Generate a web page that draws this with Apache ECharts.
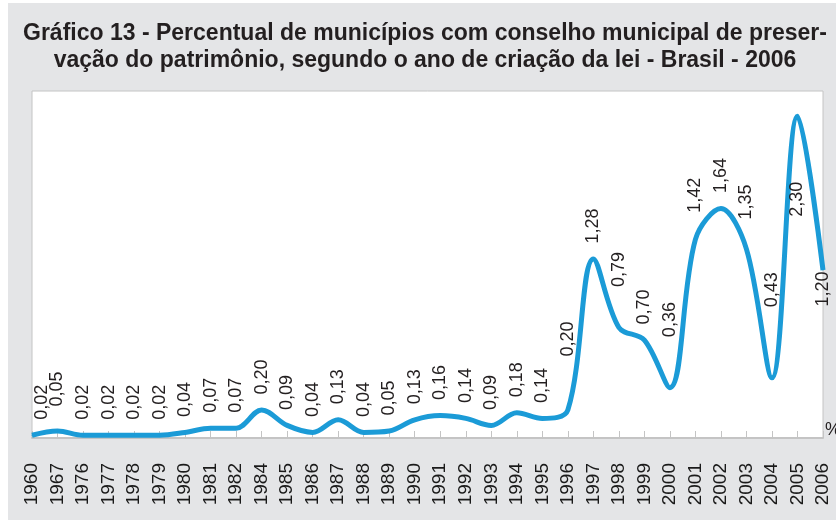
<!DOCTYPE html>
<html>
<head>
<meta charset="utf-8">
<script src="https://cdn.jsdelivr.net/npm/echarts@6/dist/echarts.min.js"></script>
<style>
  html, body { margin: 0; padding: 0; background: #fff; }
  #chart { width: 836px; height: 520px; }
</style>
</head>
<body>
<div id="chart"></div>
<script>
var years = ['1960', '1967', '1976', '1977', '1978', '1979', '1980', '1981', '1982', '1984',
  '1985', '1986', '1987', '1988', '1989', '1990', '1991', '1992', '1993', '1994', '1995',
  '1996', '1997', '1998', '1999', '2000', '2001', '2002', '2003', '2004', '2005', '2006']
var percentual = [0.02, 0.05, 0.02, 0.02, 0.02, 0.02, 0.04, 0.07, 0.07, 0.20,
  0.09, 0.04, 0.13, 0.04, 0.05, 0.13, 0.16, 0.14, 0.09, 0.18, 0.14,
  0.20, 1.28, 0.79, 0.70, 0.36, 1.42, 1.64, 1.35, 0.43, 2.30, 1.20]

// hand placed labels in the original: screen shift [right, down] in pixels
var labelShift = { '1960': [10, 0], '1967': [0, -9], '1996': [0, -38], '1998': [0, -25],
  '2000': [0, -35], '2001': [0, -11], '2003': [0, -14], '2004': [0, -55],
  '2005': [0, 116], '2006': [0, 52] }

var titleText = 'Gráfico 13 - Percentual de municípios com conselho municipal de preser-\n' +
  'vação do patrimônio, segundo o ano de criação da lei - Brasil - 2006'

var chart = echarts.init(document.getElementById('chart'))

var option = {
  animation: false,
  graphic: [
    {
      type: 'rect',
      z: -10,
      silent: true,
      shape: { x: 8, y: 3, width: 828, height: 517 },
      style: { fill: '#e4e5e7' }
    },
    {
      type: 'text',
      x: 425,
      y: 20,
      style: {
        text: titleText,
        align: 'center',
        fontFamily: 'Liberation Sans',
        fontWeight: 'bold',
        fontSize: 23,
        lineHeight: 27,
        fill: '#231f20'
      }
    },
    {
      type: 'text',
      left: 825,
      top: 421,
      style: { text: '%', font: '18px "Liberation Sans"', fill: '#231f20' }
    }
  ],
  grid: {
    show: true,
    left: 32,
    right: 13,
    top: 91,
    bottom: 82,
    backgroundColor: '#fff',
    borderColor: '#c4c4c4',
    borderWidth: 1
  },
  xAxis: {
    type: 'category',
    boundaryGap: false,
    data: years,
    axisLine: { lineStyle: { color: '#c4c4c4', width: 2 } },
    axisTick: { inside: true, length: 7, lineStyle: { color: '#c4c4c4', width: 1 } },
    axisLabel: {
      interval: 0,
      rotate: 90,
      margin: 25,
      fontFamily: 'Liberation Sans',
      fontSize: 19,
      color: '#1a1a1a'
    }
  },
  yAxis: {
    type: 'value',
    min: 0,
    max: 2.48,
    show: false,
    splitLine: { show: false }
  },
  series: [
    {
      type: 'line',
      smooth: 0.35,
      data: percentual,
      symbol: 'circle',
      symbolSize: 1,
      itemStyle: { color: '#1b9bd7' },
      lineStyle: { color: '#1b9bd7', width: 5 },
      label: {
        show: true,
        position: 'top',
        distance: 15,
        rotate: 90,
        align: 'left',
        verticalAlign: 'middle',
        fontFamily: 'Liberation Sans',
        fontSize: 18,
        color: '#231f20',
        formatter: function (p) {
          return p.value.toFixed(2).replace('.', ',')
        }
      },
      // label is rotated, so dx/dy work in its own turned frame
      labelLayout: function (p) {
        var s = labelShift[years[p.dataIndex]] || [0, 0]
        return { dx: -s[1], dy: s[0] }
      }
    }
  ]
}

chart.setOption(option)
</script>
</body>
</html>
